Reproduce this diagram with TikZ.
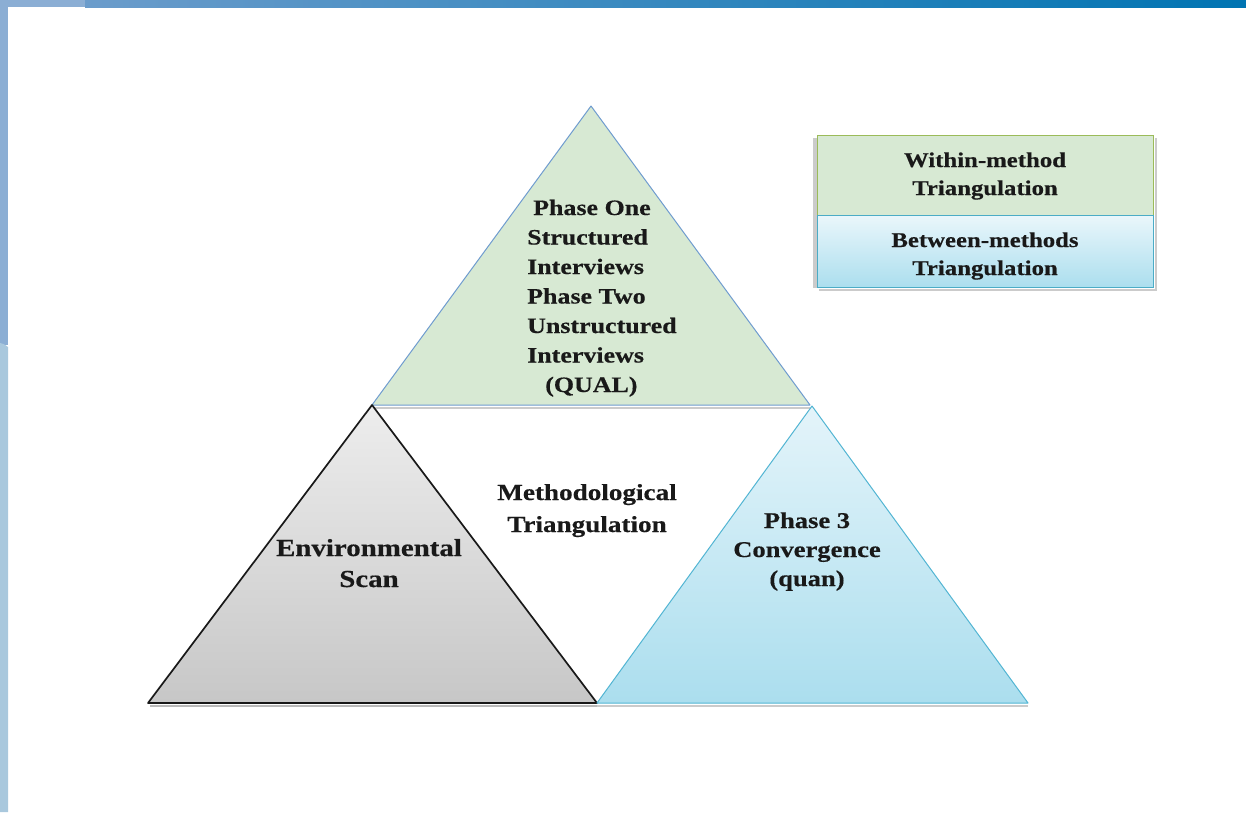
\documentclass[tikz,border=0pt]{standalone}
\usepackage{fontspec}
\setmainfont{Liberation Serif}[FakeStretch=1.18, BoldFeatures={FakeBold=0.4}]
\definecolor{barA}{HTML}{8BAED4}
\definecolor{barB}{HTML}{A9C8DD}
\definecolor{barC}{HTML}{6B9CCB}
\definecolor{barD}{HTML}{0074B2}
\definecolor{qualfill}{HTML}{D7E9D3}
\definecolor{qualline}{HTML}{6F9CCF}
\definecolor{quantop}{HTML}{E4F4FA}
\definecolor{quanbot}{HTML}{ABDEEE}
\definecolor{quanline}{HTML}{52B5D3}
\definecolor{greenline}{HTML}{9BBB59}
\definecolor{blueline}{HTML}{4BACC6}
\begin{document}
\begin{tikzpicture}[x=1pt,y=-1pt,
  lbl/.style={font=\bfseries\fontsize{22}{29.5}\selectfont, inner sep=0pt, text=black!90},
  leg/.style={font=\bfseries\fontsize{21}{28}\selectfont, inner sep=0pt, text=black!90, align=center},
  shadowline/.style={black!45, line width=2.5pt, opacity=0.45},
  legbox/.style={inner sep=0pt, minimum width=336pt, anchor=north west, line width=1pt}]
\useasboundingbox (0,0) rectangle (1246,812);
\fill[white] (0,0) rectangle (1246,812);
% frame of the slide
\fill[barA] (0,0) rectangle (8,345);
\fill[barB] (0,343) .. controls (4,344) .. (8,347) -- (8,812) -- (0,812) -- cycle;
\fill[barA] (0,0) rectangle (85,7);
\shade[left color=barC, right color=barD] (85,0) rectangle (1246,7);
% shadows
\draw[shadowline] (374,408) -- (810,408);
\draw[shadowline, black!60] (150,706) -- (597,706);
\draw[shadowline] (597,706) -- (1028,706);
\draw[shadowline] (1156,138) -- (1156,290) -- (819,290);
\fill[black!40, opacity=0.5] (813,138) rectangle (817,288);
% top triangle (QUAL)
\path[fill=qualfill, draw=qualline, line width=1pt, line join=round]
  (591,106) -- (810,405) -- (372,405) -- cycle;
% left triangle
\path[top color=black!7, bottom color=black!22, draw=black!90, line width=1.7pt, line join=round]
  (372,405) -- (597,703) -- (148,703) -- cycle;
% right triangle
\path[top color=quantop, bottom color=quanbot, draw=quanline, line width=1pt, line join=round]
  (812,406) -- (1028,703) -- (597,703) -- cycle;
% legend
\node[legbox, fill=qualfill, draw=greenline, minimum height=80pt] (within) at (817,135) {};
\node[legbox, top color=quantop!80!white, bottom color=quanbot, draw=blueline, minimum height=72pt] (between) at (817,215) {};
\node[leg, anchor=base] (withint) at (985,195) {Within-method\\Triangulation};
\node[leg, anchor=base] (betweent) at (985,275) {Between-methods\\Triangulation};
% texts
\node[lbl, align=left, anchor=base west] (qual) at (527,392)
  {\hspace*{6pt}Phase One\\Structured\\Interviews\\Phase Two\\Unstructured\\Interviews\\\hspace*{18pt}(QUAL)};
\node[lbl, align=center, anchor=base, font=\bfseries\fontsize{23}{32}\selectfont] (meth) at (587,532)
  {Methodological\\Triangulation};
\node[lbl, align=center, anchor=base, font=\bfseries\fontsize{24.5}{31}\selectfont] (env) at (369,587)
  {Environmental\\Scan};
\node[lbl, align=center, anchor=base, font=\bfseries\fontsize{22.5}{29}\selectfont] (quan) at (807,586)
  {Phase 3\\Convergence\\(quan)};
\end{tikzpicture}
\end{document}
